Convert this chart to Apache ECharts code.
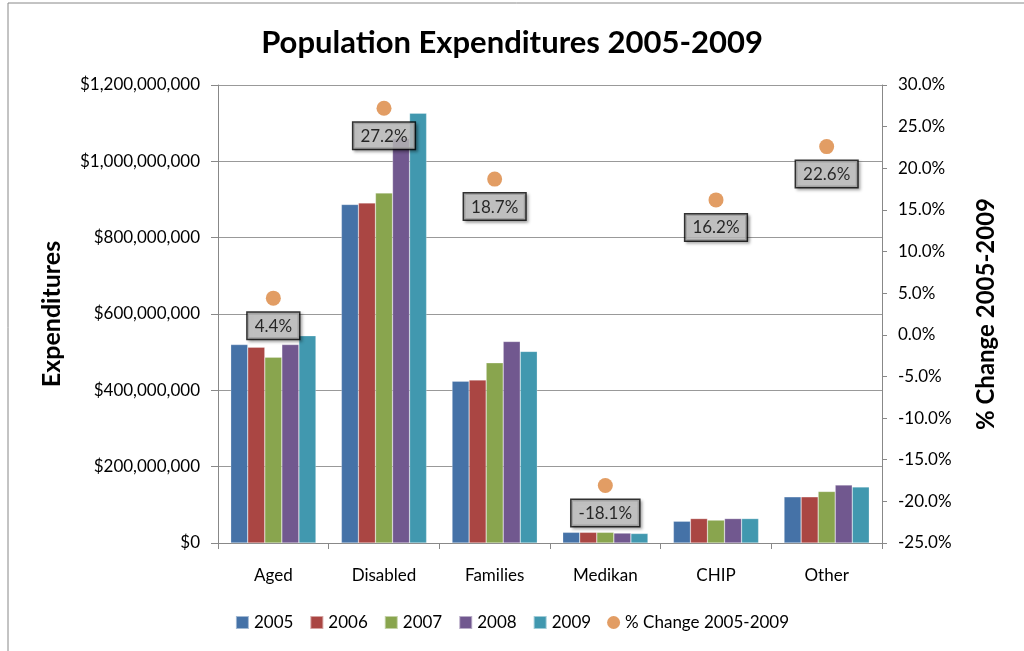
<!DOCTYPE html>
<html><head><meta charset="utf-8">
<script src="https://cdn.jsdelivr.net/npm/echarts@6/dist/echarts.min.js"></script>
<style>html,body{margin:0;padding:0;background:#fff}#c{width:1024px;height:651px}</style>
</head><body><div id="c"></div>
<script>
const categories = ['Aged','Disabled','Families','Medikan','CHIP','Other'];
const years = ['2005','2006','2007','2008','2009'];
const v2005 = [520e6, 887e6, 424e6, 28e6, 57e6, 121e6];
const v2006 = [513e6, 891e6, 427e6, 28e6, 64e6, 121e6];
const v2007 = [487e6, 917e6, 472e6, 28e6, 60e6, 135e6];
const v2008 = [520e6, 1060e6, 528e6, 26e6, 64e6, 152e6];
const v2009 = [543e6, 1126e6, 502e6, 25e6, 64e6, 147e6];
const pctChange = [4.4, 27.2, 18.7, -18.1, 16.2, 22.6];
const colors = ['#4572A7','#AA4643','#89A54E','#71588F','#4198AF'];
const dotColor = '#DB843D';
const font = 'Lato, "Open Sans", sans-serif';

const barData = [v2005, v2006, v2007, v2008, v2009];
const chart = echarts.init(document.getElementById('c'));
const fmtMoney = v => '$' + Math.round(v).toString().replace(/\B(?=(\d{3})+(?!\d))/g, ',');
const series = barData.map((d, i) => ({
  name: years[i], type: 'bar', data: d, yAxisIndex: 0,
  barGap: '0%', barCategoryGap: '23%',
  itemStyle: { color: colors[i], borderColor: 'rgba(255,255,255,0.5)', borderWidth: 0.5 }
}));
series.push({
  name: '% Change 2005-2009', type: 'scatter', yAxisIndex: 1, data: pctChange,
  symbolSize: 15, itemStyle: { color: dotColor }, z: 10,
  label: {
    show: true, position: 'bottom', distance: 7,
    formatter: p => p.value.toFixed(1) + '%',
    color: '#000', fontSize: 17, fontFamily: font,
    backgroundColor: '#c0c0c0', borderColor: '#000', borderWidth: 1.5,
    padding: [5, 7, 4, 7],
    shadowColor: 'rgba(0,0,0,0.35)', shadowBlur: 3, shadowOffsetX: 2, shadowOffsetY: 2
  }
});

chart.setOption({
  animation: false,
  color: colors,
  textStyle: { fontFamily: font },
  title: {
    text: 'Population Expenditures 2005-2009', left: 'center', top: 22,
    textStyle: { fontSize: 31, fontWeight: 'bold', color: '#000', fontFamily: font }
  },
  graphic: [{ type: 'rect', shape: { x: 8, y: 3, width: 1030, height: 670 },
    style: { fill: 'none', stroke: '#888', lineWidth: 1 }, silent: true }],
  legend: {
    bottom: 15, left: 'center', itemWidth: 13, itemHeight: 13, itemGap: 16,
    textStyle: { fontSize: 17, color: '#000', fontFamily: font },
    data: years.map(y => ({ name: y, icon: 'rect' })).concat([{ name: '% Change 2005-2009', icon: 'circle' }])
  },
  grid: { left: 218, right: 142, top: 85, bottom: 108 },
  xAxis: {
    type: 'category', data: categories,
    axisLine: { lineStyle: { color: '#888' } },
    axisTick: { show: true, length: 6, lineStyle: { color: '#888' } },
    axisLabel: { fontSize: 17, color: '#000', margin: 24, fontFamily: font }
  },
  yAxis: [{
    type: 'value', min: 0, max: 1200e6, interval: 200e6,
    name: 'Expenditures', nameLocation: 'middle', nameGap: 154, nameRotate: 90,
    nameTextStyle: { fontSize: 25, fontWeight: 'bold', color: '#000', fontFamily: font },
    axisLine: { show: true, lineStyle: { color: '#888' } },
    axisTick: { show: true, length: 7, lineStyle: { color: '#888' } },
    axisLabel: { fontSize: 17, color: '#000', formatter: fmtMoney, margin: 18, fontFamily: font },
    splitLine: { lineStyle: { color: '#999', width: 1 } }
  }, {
    type: 'value', min: -25, max: 30, interval: 5, position: 'right',
    name: '% Change 2005-2009', nameLocation: 'middle', nameGap: 92, nameRotate: 90,
    nameTextStyle: { fontSize: 24, fontWeight: 'bold', color: '#000', fontFamily: font },
    axisLine: { show: true, lineStyle: { color: '#888' } },
    axisTick: { show: true, length: 5, lineStyle: { color: '#888' } },
    axisLabel: { fontSize: 17, color: '#000', formatter: v => v.toFixed(1) + '%', margin: 16, fontFamily: font },
    splitLine: { show: false }
  }],
  series: series
});
</script></body></html>
